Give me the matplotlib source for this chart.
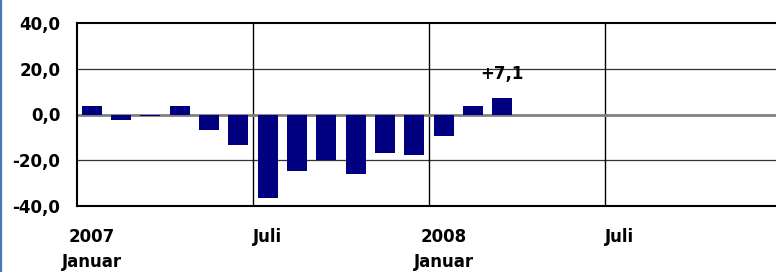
import matplotlib.pyplot as plt
from matplotlib.lines import Line2D

# DejaVu Bold ist breiter als Arial und passt besser zur gestreckten Vorlage
plt.rcParams['font.family'] = ['DejaVu Sans']

# monatliche Werte Jan 2007 - Mrz 2008
monate = list(range(15))
werte = [3.8, -2.2, -0.5, 3.8, -6.6, -13.5, -36.7, -24.5, -20.0, -26.1,
         -17.0, -17.9, -9.2, 3.5, 7.1]
yticks = [-40, -20, 0, 20, 40]
ytick_labels = ["-40,0", "-20,0", "0,0", "20,0", "40,0"]
xlab_pos = [0, 6, 12, 18]
xlab_oben = ["2007", "Juli", "2008", "Juli"]
xlab_unten = ["Januar", "", "Januar", ""]

W, H = 776, 272
fig = plt.figure(figsize=(W / 100, H / 100), dpi=100)

# Achse in Pixeln: links 77, oben 23, unten 206, rechts bis zum Bildrand
px_monat = 29.33
x0, x1 = 77, 776
ax = fig.add_axes([x0 / W, 1 - 206 / H, (x1 - x0) / W, (206 - 23) / H])
ax.set_xlim(-0.5, -0.5 + (x1 - x0) / px_monat)
ax.set_ylim(-40, 40)

ax.bar(monate, werte, width=0.68, color='#000080', zorder=3)

# Gitter
for y in [-20, 20]:
    ax.axhline(y, color='#333333', lw=0.9, zorder=1)
ax.axhline(0, color='#808080', lw=2.0, zorder=2)
for x in [5.5, 11.5, 17.5]:
    ax.axvline(x, color='black', lw=1.0, zorder=1)

for s in ['top', 'bottom', 'left']:
    ax.spines[s].set_linewidth(1.5)
    ax.spines[s].set_color('black')
ax.spines['right'].set_visible(False)

ax.set_yticks(yticks)
ax.set_yticklabels(ytick_labels, fontsize=12, fontweight='bold')
ax.tick_params(axis='y', length=0, pad=12)
ax.set_xticks([])

for p, t1, t2 in zip(xlab_pos, xlab_oben, xlab_unten):
    ax.text(p, -53.5, t1, ha='center', va='center', fontsize=12,
            fontweight='bold', clip_on=False)
    if t2:
        ax.text(p, -64.5, t2, ha='center', va='center', fontsize=12,
                fontweight='bold', clip_on=False)

ax.text(monate[-1], 17.5, "+7,1", ha='center', va='center', fontsize=12,
        fontweight='bold')

# blaue Randlinie links
fig.add_artist(Line2D([1 / W, 1 / W], [0, 1], color='#4a7ab5', lw=1.6))

fig.savefig('out.png', dpi=100)
